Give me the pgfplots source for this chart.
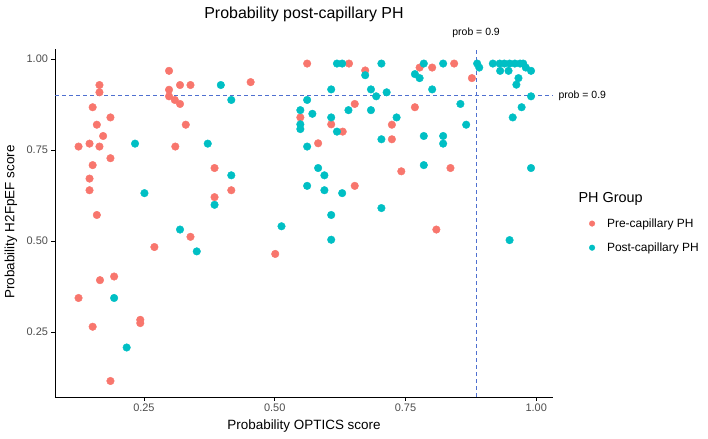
\documentclass[border=0pt]{standalone}
\usepackage{pgfplots}
\pgfplotsset{compat=1.18}
\usepackage{fontspec}
\setmainfont{Liberation Sans}
\definecolor{pre}{HTML}{F8766D}
\definecolor{post}{HTML}{00BFC4}
\definecolor{ref}{HTML}{4F70D0}
\definecolor{tickgray}{HTML}{4D4D4D}
\begin{document}
\begin{tikzpicture}
\path (0,0) rectangle (708bp,439bp);
\begin{axis}[
  at={(55bp,42bp)}, anchor=south west,
  scale only axis, width=498bp, height=348bp,
  xmin=0.08, xmax=1.032, ymin=0.072, ymax=1.028,
  axis x line=bottom, axis y line=left,
  axis line style={-, black, line width=0.6pt},
  tick align=outside, major tick length=3.5bp,
  tick style={black, line width=0.6pt},
  xtick={0.25,0.5,0.75,1}, xticklabels={0.25,0.50,0.75,1.00},
  ytick={0.25,0.5,0.75,1}, yticklabels={0.25,0.50,0.75,1.00},
  ticklabel style={font=\fontsize{11}{13}\selectfont, text=tickgray},
  clip=false,
  legend style={at={(1.058,0.525)}, anchor=north west, draw=none, fill=none,
    font=\fontsize{12}{14}\selectfont, row sep=10bp},
  legend cell align=left,
  legend image code/.code={\draw[#1, mark size=2.8bp] plot coordinates {(7bp,0bp)}; \path[draw=none, fill=none] (0bp,0bp) -- (20bp,0bp);},
]
\addplot[color=ref, dash pattern=on 4bp off 3bp, line width=0.75pt, forget plot] coordinates {(0.08,0.9) (1.032,0.9)};
\addplot[color=ref, dash pattern=on 4bp off 3bp, line width=0.75pt, forget plot] coordinates {(0.885,0.072) (0.885,1.028)};
\addplot[only marks, mark=*, mark size=3.8bp, color=pre, mark options={draw=pre, fill=pre}] table {
x y
0.298 0.968
0.165 0.929
0.165 0.909
0.319 0.929
0.339 0.929
0.298 0.916
0.298 0.898
0.309 0.888
0.319 0.877
0.152 0.868
0.186 0.840
0.160 0.820
0.330 0.820
0.172 0.789
0.125 0.760
0.146 0.768
0.165 0.760
0.310 0.760
0.186 0.728
0.385 0.701
0.152 0.709
0.146 0.672
0.146 0.640
0.417 0.640
0.385 0.621
0.160 0.572
0.339 0.512
0.270 0.484
0.193 0.403
0.166 0.393
0.125 0.344
0.243 0.284
0.243 0.275
0.152 0.265
0.186 0.116
0.454 0.937
0.562 0.988
0.642 0.988
0.673 0.969
0.653 0.877
0.549 0.840
0.608 0.821
0.630 0.801
0.724 0.820
0.724 0.780
0.583 0.769
0.653 0.652
0.501 0.465
0.777 0.977
0.801 0.977
0.843 0.988
0.877 0.948
0.768 0.868
0.742 0.692
0.836 0.701
0.809 0.532
};
\addlegendentry{Pre-capillary PH}
\addplot[only marks, mark=*, mark size=3.8bp, color=post, mark options={draw=post, fill=post}] table {
x y
0.397 0.929
0.417 0.888
0.233 0.768
0.372 0.768
0.417 0.681
0.251 0.632
0.385 0.600
0.319 0.532
0.351 0.472
0.193 0.344
0.217 0.208
0.619 0.988
0.629 0.988
0.673 0.956
0.704 0.988
0.608 0.917
0.684 0.917
0.694 0.898
0.714 0.909
0.562 0.888
0.641 0.860
0.684 0.860
0.549 0.860
0.572 0.850
0.608 0.840
0.733 0.840
0.549 0.821
0.549 0.808
0.619 0.801
0.704 0.780
0.562 0.760
0.583 0.701
0.595 0.681
0.562 0.652
0.595 0.640
0.629 0.632
0.704 0.591
0.608 0.572
0.513 0.541
0.608 0.504
0.785 0.988
0.822 0.988
0.768 0.959
0.777 0.948
0.801 0.917
0.887 0.988
0.891 0.977
0.917 0.988
0.930 0.988
0.939 0.988
0.949 0.988
0.959 0.988
0.969 0.988
0.975 0.988
0.931 0.968
0.947 0.968
0.980 0.977
0.990 0.968
0.966 0.948
0.962 0.930
0.990 0.898
0.855 0.877
0.972 0.868
0.955 0.840
0.866 0.820
0.785 0.789
0.822 0.789
0.822 0.768
0.785 0.709
0.990 0.701
0.949 0.503
};
\addlegendentry{Post-capillary PH}
\node[font=\fontsize{10.5}{12}\selectfont] at (axis cs:0.885,1.072) {prob = 0.9};
\node[font=\fontsize{10.5}{12}\selectfont] at (axis cs:1.088,0.9) {prob = 0.9};
\end{axis}
\node[font=\fontsize{16}{19}\selectfont] at (304bp,425bp) {Probability post-capillary PH};
\node[font=\fontsize{13.5}{16}\selectfont] at (304bp,13bp) {Probability OPTICS score};
\node[font=\fontsize{13.5}{16}\selectfont, rotate=90] at (11bp,217bp) {Probability H2FpEF score};
\node[font=\fontsize{14.5}{17}\selectfont, anchor=west] at (575bp,240bp) {PH Group};
\end{tikzpicture}
\end{document}
